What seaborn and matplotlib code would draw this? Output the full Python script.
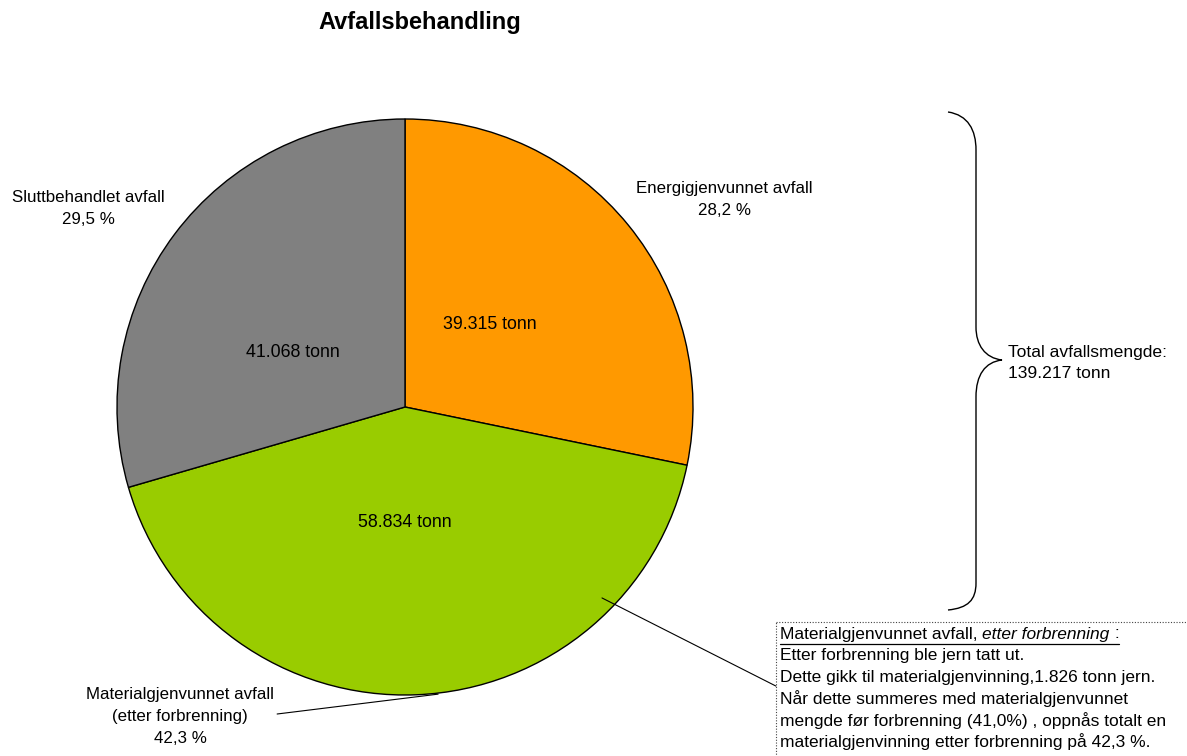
import matplotlib
matplotlib.use("Agg")
import matplotlib.pyplot as plt
import seaborn as sns
from matplotlib.path import Path
from matplotlib.patches import PathPatch, Rectangle

# ─── data ─────────────────────────────────────────────────────────────────────
categories = ["Energigjenvunnet avfall", "Materialgjenvunnet avfall\n(etter forbrenning)",
              "Sluttbehandlet avfall"]
tonnes = [39315, 58834, 41068]
pct_labels = ["28,2 %", "42,3 %", "29,5 %"]
tonn_labels = ["39.315 tonn", "58.834 tonn", "41.068 tonn"]
colors = ["#FF9900", "#99CC00", "#808080"]
total_label = "Total avfallsmengde:\n139.217 tonn"
note_lines = [
    "Etter forbrenning ble jern tatt ut.",
    "Dette gikk til materialgjenvinning,1.826 tonn jern.",
    "Når dette summeres med materialgjenvunnet",
    "mengde før forbrenning (41,0%) , oppnås totalt en",
    "materialgjenvinning etter forbrenning på 42,3 %.",
]

sns.set_theme(style="white")
plt.rcParams["font.family"] = ["Liberation Sans", "DejaVu Sans"]
FS_NOTE = 12.5

W, H = 1187, 756
fig = plt.figure(figsize=(W / 100, H / 100), dpi=100)

# overlay axes in pixel coordinates (for brace, box, title)
ov = fig.add_axes([0, 0, 1, 1])
ov.set_xlim(0, W)
ov.set_ylim(H, 0)
ov.axis("off")

# pie axes: centre (405, 407), radius 288 px
cx, cy, r = 405, 407, 288
ax = fig.add_axes([(cx - r) / W, (H - cy - r) / H, 2 * r / W, 2 * r / H])
ax.pie(tonnes, colors=colors, startangle=90, counterclock=False, radius=1,
       wedgeprops={"edgecolor": "black", "linewidth": 1})
ax.set_xlim(-1, 1)
ax.set_ylim(-1, 1)
ax.set_aspect("equal")
ax.axis("off")

# inner tonnage labels
inner_pos = [(0.295, 0.288), (0.0, -0.40), (-0.39, 0.19)]
for (x, y), t in zip(inner_pos, tonn_labels):
    ax.text(x, y, t, ha="center", va="center", fontsize=12.8, color="black")

# outer category labels
outer_pos = [(1.11, 0.72), (-0.78, -1.075), (-1.10, 0.69)]
for (x, y), c, p in zip(outer_pos, categories, pct_labels):
    ax.text(x, y, c + "\n" + p, ha="center", va="center", fontsize=12.2,
            color="black", linespacing=1.6, clip_on=False)

# leader line for material label and callout to note box
ax.plot([-0.444, 0.115], [-1.066, -0.997], color="black", lw=0.8, clip_on=False)
ax.plot([0.684, 1.288], [-0.663, -0.969], color="black", lw=0.8, clip_on=False)

# title
ov.text(420, 23, "Avfallsbehandling", ha="center", va="center",
        fontsize=17, fontweight="bold", color="black")

# curly brace
verts = [(948, 112), (968, 115), (976, 130), (976, 150),
         (976, 327),
         (976, 345), (985, 358), (1002, 360),
         (985, 362), (976, 375), (976, 397),
         (976, 583),
         (976, 600), (968, 608), (948, 610)]
codes = [Path.MOVETO, Path.CURVE4, Path.CURVE4, Path.CURVE4,
         Path.LINETO,
         Path.CURVE4, Path.CURVE4, Path.CURVE4,
         Path.CURVE4, Path.CURVE4, Path.CURVE4,
         Path.LINETO,
         Path.CURVE4, Path.CURVE4, Path.CURVE4]
ov.add_patch(PathPatch(Path(verts, codes), fill=False, edgecolor="black", lw=1))
ov.text(1008, 363, total_label, ha="left", va="center", fontsize=12.6,
        color="black", linespacing=1.5)

# note box
ov.add_patch(Rectangle((776, 622), 500, 200, fill=False, edgecolor="#444444",
                       lw=0.8, linestyle=(0, (1, 1.5)), clip_on=False))
y0, dy = 634, 21.6
t1 = ov.text(780, y0, "Materialgjenvunnet avfall, ", ha="left", va="center",
             fontsize=FS_NOTE, color="black")
fig.canvas.draw()
rend = fig.canvas.get_renderer()
inv = ov.transData.inverted()
bb = t1.get_window_extent(rend)
x1 = inv.transform((bb.x1, 0))[0]
t2 = ov.text(x1, y0, "etter forbrenning", ha="left", va="center",
             fontsize=FS_NOTE, style="italic", color="black")
bb = t2.get_window_extent(rend)
x2 = inv.transform((bb.x1, 0))[0]
t3 = ov.text(x2, y0, " :", ha="left", va="center", fontsize=FS_NOTE, color="black")
bb = t3.get_window_extent(rend)
x3 = inv.transform((bb.x1, 0))[0]
ov.plot([780, x3], [y0 + 10, y0 + 10], color="black", lw=0.9)
for i, line in enumerate(note_lines, start=1):
    ov.text(780, y0 + i * dy, line, ha="left", va="center", fontsize=FS_NOTE,
            color="black")

fig.savefig("out.png", dpi=100)
plt.close(fig)
